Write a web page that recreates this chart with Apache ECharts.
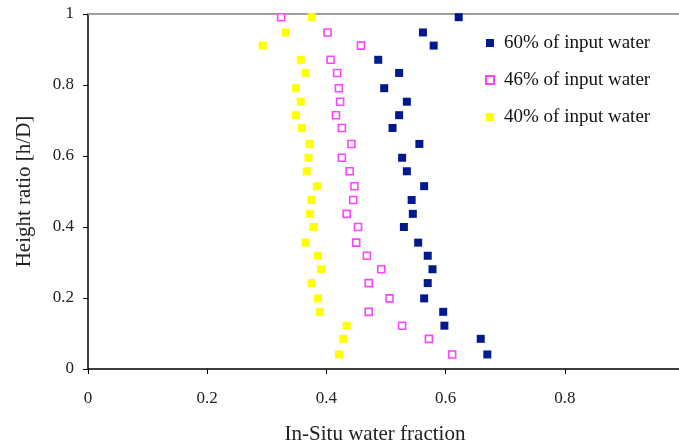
<!DOCTYPE html>
<html>
<head>
<meta charset="utf-8">
<script src="https://cdn.jsdelivr.net/npm/echarts@6/dist/echarts.min.js"></script>
<style>html,body{margin:0;padding:0;background:#fff;}#c{width:679px;height:442px;}</style>
</head>
<body>
<div id="c"></div>
<script>
var heights = [0.991,0.948,0.911,0.871,0.834,0.791,0.753,0.715,0.679,0.634,0.595,0.557,0.515,0.476,0.437,0.400,0.356,0.319,0.281,0.242,0.199,0.161,0.122,0.085,0.041];
var water60 = [0.622,0.562,0.580,0.487,0.522,0.497,0.535,0.522,0.511,0.556,0.527,0.535,0.564,0.543,0.545,0.530,0.554,0.570,0.578,0.570,0.564,0.596,0.598,0.659,0.670];
var water46 = [0.324,0.402,0.458,0.407,0.418,0.421,0.423,0.416,0.426,0.442,0.426,0.439,0.447,0.445,0.434,0.453,0.450,0.468,0.492,0.471,0.506,0.471,0.527,0.572,0.611];
var water40 = [0.375,0.332,0.293,0.357,0.365,0.349,0.357,0.349,0.359,0.372,0.370,0.367,0.384,0.375,0.372,0.378,0.365,0.386,0.391,0.375,0.386,0.389,0.434,0.428,0.421];
var seriesNames = ['60% of input water','46% of input water','40% of input water'];
var xTicks = [0,0.2,0.4,0.6,0.8,1];
var yTicks = [0,0.2,0.4,0.6,0.8,1];

function pairs(xs){ return xs.map(function(v,i){ return [v, heights[i]]; }); }
var font = 'Liberation Serif';
var chart = echarts.init(document.getElementById('c'), null, {renderer:'canvas'});
chart.setOption({
  animation:false,
  backgroundColor:'#fff',
  grid:{left:88, top:14, right:-5, bottom:73, containLabel:false, outerBoundsMode:'none'},
  legend:{
    orient:'vertical', left:480, top:28, itemWidth:8, itemHeight:8, itemGap:17,
    textStyle:{fontFamily:font, fontSize:19, color:'#111', lineHeight:20, padding:[0,0,0,5]},
    data:seriesNames
  },
  xAxis:[{
    type:'value', min:xTicks[0], max:xTicks[xTicks.length-1], interval:0.2,
    name:'In-Situ water fraction', nameLocation:'middle', nameGap:55,
    nameTextStyle:{fontFamily:font, fontSize:21, color:'#222', padding:[0,22,0,0]},
    axisLine:{lineStyle:{color:'#000', width:1.5}},
    axisTick:{show:true, length:5, lineStyle:{color:'#000'}},
    axisLabel:{fontFamily:font, fontSize:17, color:'#222', margin:21, showMaxLabel:false},
    splitLine:{show:false}
  },{
    type:'value', position:'top', min:0, max:1,
    axisLine:{show:true, lineStyle:{color:'#a0a0a0', width:2}},
    axisTick:{show:false}, axisLabel:{show:false}, splitLine:{show:false}
  }],
  yAxis:{
    type:'value', min:yTicks[0], max:yTicks[yTicks.length-1], interval:0.2,
    name:'Height ratio [h/D]', nameLocation:'middle', nameGap:53,
    nameTextStyle:{fontFamily:font, fontSize:21, color:'#222'},
    axisLine:{show:true, lineStyle:{color:'#000', width:1.5}},
    axisTick:{show:true, length:5, lineStyle:{color:'#000'}},
    axisLabel:{fontFamily:font, fontSize:17, color:'#222', margin:14},
    splitLine:{show:false}
  },
  series:[
    {name:seriesNames[0], type:'scatter', symbol:'rect', symbolSize:8, data:pairs(water60),
     itemStyle:{color:'#00198c', opacity:1}},
    {name:seriesNames[1], type:'scatter', symbol:'rect', symbolSize:7, data:pairs(water46),
     itemStyle:{color:'#ffffff', borderColor:'#ff44ff', borderWidth:1.6, opacity:1}},
    {name:seriesNames[2], type:'scatter', symbol:'rect', symbolSize:8, data:pairs(water40),
     itemStyle:{color:'#ffff00', opacity:1}}
  ]
});
</script>
</body>
</html>
